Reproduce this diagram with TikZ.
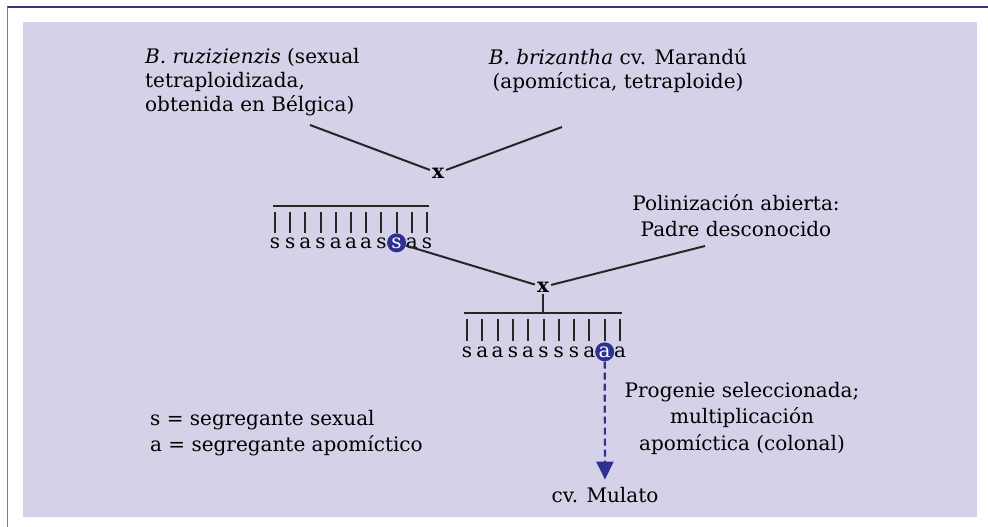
\documentclass[tikz,border=0pt]{standalone}
\usepackage{fontspec}
\setmainfont{DejaVu Serif}
\usetikzlibrary{%
    arrows.meta,%
    calc,%
    positioning%
}
\definecolor{panel}{HTML}{D5D1E8}
\definecolor{frameblue}{HTML}{34347F}
\definecolor{markblue}{HTML}{2E3192}

\tikzset{
    label text/.style={font=\fontsize{20}{26.5}\selectfont, inner sep=0pt},
    parent text/.style={font=\fontsize{20}{24}\selectfont, inner sep=0pt},
    cross/.style={font=\bfseries\fontsize{20}{20}\selectfont, inner sep=2pt},
    link/.style={line width=2pt, black!85},
    tick/.style={line width=2pt, black!85},
    allele/.style={font=\fontsize{20}{20}\selectfont, inner sep=0pt, anchor=base},
    chosen/.style={circle, fill=markblue, text=white, minimum size=19pt},
    pick/.style={line width=2.2pt, markblue, dash pattern=on 7pt off 4pt}
}

\begin{document}
\begin{tikzpicture}[x=1pt,y=-1pt]
    % Frame and panel
    \useasboundingbox (0,0) rectangle (988,527);
    \fill[panel] (23,22) rectangle (977,517);
    \draw[frameblue, line width=1.5pt] (7,7) -- (988,7);
    \draw[gray, line width=0.8pt] (7,7) -- (7,527);

    % Parents of the first cross
    \node[parent text, anchor=north west, align=left] (ruz) at (145,48)
        {\textit{B. ruzizienzis} (sexual\\tetraploidizada,\\obtenida en Bélgica)};
    \node[parent text, anchor=north, align=center] (briz) at (618,48)
        {\textit{B. brizantha} cv. Marandú\\(apomíctica, tetraploide)};
    \coordinate (ruzfoot) at (310,125);
    \coordinate (brizfoot) at (562,127);
    \node[cross] (x1) at (438,173) {x};
    \draw[link] (ruzfoot) -- (x1);
    \draw[link] (brizfoot) -- (x1);

    % First progeny, spacing of the segregants
    \pgfmathsetmacro{\da}{15.2};
    \draw[tick] (273,206) -- (429,206);
    \foreach \a [count=\i from 0] in {s,s,a,s,a,a,a,s,s,a,s}%
    {%
        \draw[tick] ({275+\i*\da},212) -- ({275+\i*\da},233);
        \ifnum\i=8
            \node[allele, chosen] (fa\i) at ({275+\i*\da},248) {\a};
        \else
            \node[allele] (fa\i) at ({275+\i*\da},248) {\a};
        \fi
    }

    % Second cross with an unknown father
    \node[cross] (x2) at (543,287) {x};
    \coordinate (open) at (705,246);
    \draw[link] (fa8) -- (x2);
    \draw[link] (open) -- (x2);
    \node[label text, anchor=south, align=center] (poli) at (736,237)
        {Polinización abierta:\\Padre desconocido};

    % Second progeny
    \pgfmathsetmacro{\db}{15.3};
    \coordinate (bar) at (543,313);
    \draw[tick] (x2) -- (bar);
    \draw[tick] (464,313) -- (622,313);
    \foreach \a [count=\i from 0] in {s,a,a,s,a,s,s,s,a,a,a}%
    {%
        \draw[tick] ({467+\i*\db},319) -- ({467+\i*\db},341);
        \ifnum\i=9
            \node[allele, chosen] (fb\i) at ({467+\i*\db},357) {\a};
        \else
            \node[allele] (fb\i) at ({467+\i*\db},357) {\a};
        \fi
    }

    % Selected progeny becomes the cultivar
    \node[label text, anchor=base] (mulato) at (605,502) {cv. Mulato};
    \draw[pick, -{Triangle[width=17pt, length=18pt, fill=markblue]}, shorten >=7pt] (fb9) -- (mulato);
    \node[label text, anchor=north, align=center] (prog) at (742,382)
        {Progenie seleccionada;\\multiplicación\\apomíctica (colonal)};

    % Legend
    \node[label text, anchor=north west, align=left] (legend) at (150,410)
        {s = segregante sexual\\a = segregante apomíctico};
\end{tikzpicture}
\end{document}
